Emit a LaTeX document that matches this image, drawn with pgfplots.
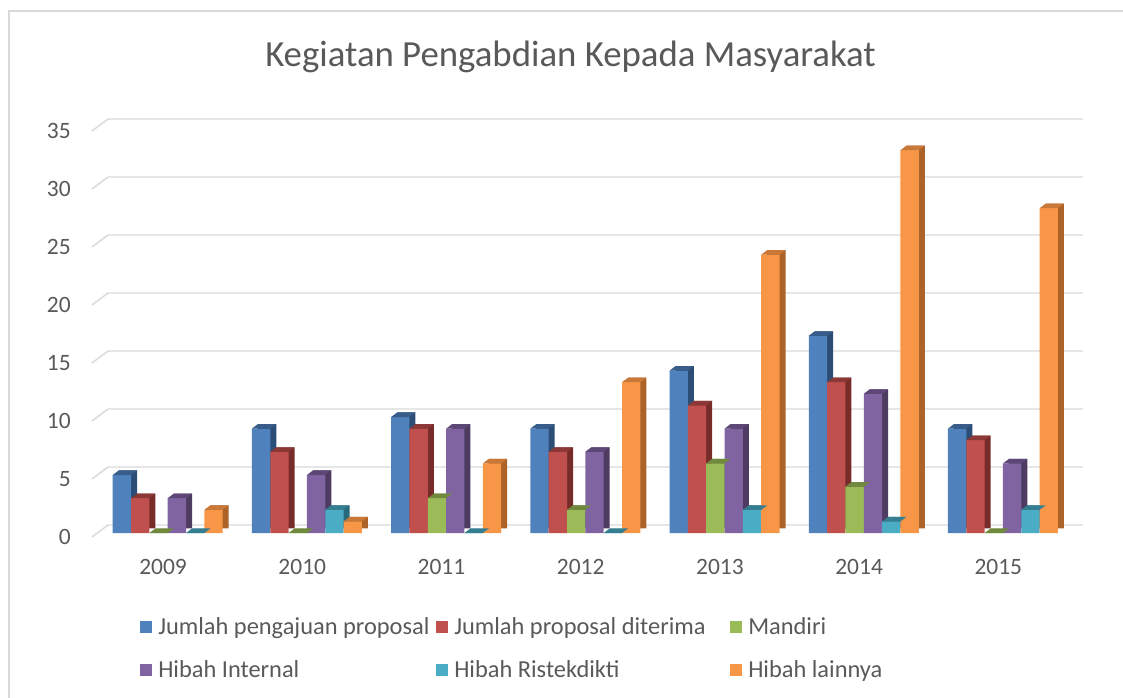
\documentclass[border=0pt]{standalone}
\usepackage{fontspec}
\setmainfont{Carlito}
\usepackage{pgfplots}
\usepackage{pgfplotstable}
\pgfplotsset{compat=1.18}

\definecolor{txt}{HTML}{595959}
\definecolor{gridc}{HTML}{D9D9D9}
\definecolor{c1}{HTML}{4F81BD}\definecolor{c1s}{HTML}{2C4D75}\definecolor{c1t}{HTML}{385D8A}
\definecolor{c2}{HTML}{C0504D}\definecolor{c2s}{HTML}{772C2A}\definecolor{c2t}{HTML}{8C3836}
\definecolor{c3}{HTML}{9BBB59}\definecolor{c3s}{HTML}{5F7530}\definecolor{c3t}{HTML}{71893F}
\definecolor{c4}{HTML}{8064A2}\definecolor{c4s}{HTML}{4D3B62}\definecolor{c4t}{HTML}{5C4776}
\definecolor{c5}{HTML}{4BACC6}\definecolor{c5s}{HTML}{276A7C}\definecolor{c5t}{HTML}{357D91}
\definecolor{c6}{HTML}{F79646}\definecolor{c6s}{HTML}{AC6329}\definecolor{c6t}{HTML}{C97838}

\pgfdeclareplotmark{topface}{%
  \pgfpathmoveto{\pgfpoint{-6.875pt}{0pt}}%
  \pgfpathlineto{\pgfpoint{6.875pt}{0pt}}%
  \pgfpathlineto{\pgfpoint{11.375pt}{3.4pt}}%
  \pgfpathlineto{\pgfpoint{-2.375pt}{3.4pt}}%
  \pgfpathclose
  \pgfusepathqfill}

\pgfplotstableread{
x a b c d e f
0 5 3 0 3 0 2
1 9 7 0 5 2 1
2 10 9 3 9 0 6
3 9 7 2 7 0 13
4 14 11 6 9 2 24
5 17 13 4 12 1 33
6 9 8 0 6 2 28
}\data

\newcommand{\tickfont}{\fontsize{17.6}{20}\selectfont}
\newcommand{\legfont}{\fontsize{18.3}{21}\selectfont}
\pgfplotsset{
  side/.style={ybar, bar width=13.75pt, bar shift=#1, draw=none, xshift=4.5pt, yshift=3.4pt, forget plot},
  front/.style={ybar, bar width=13.75pt, bar shift=#1, draw=none,
     legend image code/.code={\fill[##1] (0pt,-4.5pt) rectangle (9pt,4.5pt);}},
  top/.style={only marks, mark=topface, xshift=#1, forget plot},
}

\begin{document}
\begin{tikzpicture}
\path[use as bounding box] (0,0) rectangle (842.25pt,-523.5pt);
\draw[gridc, line width=1.1pt] (850pt,-8.25pt) -- (6.75pt,-8.25pt) -- (6.75pt,-530pt);
\node[anchor=base, font=\fontsize{27.6}{30}\selectfont, text=txt] at (427.9pt,-50.25pt) {Kegiatan Pengabdian Kepada Masyarakat};
\begin{axis}[
  at={(81pt,-399.75pt)}, anchor=south west,
  scale only axis, width=731.25pt, height=304.5pt,
  xmin=-0.429, xmax=6.575, ymin=0, ymax=35,
  clip=false,
  axis line style={draw=none},
  major tick length=0pt,
  xtick={0,...,6},
  xticklabels={2009,2010,2011,2012,2013,2014,2015},
  ytick={0,5,...,35},
  /pgf/number format/assume math mode=true,
  tick label style={font=\tickfont, text=txt},
  yticklabel style={anchor=east, inner sep=0pt, xshift=-27.75pt, yshift=-3pt},
  xticklabel style={anchor=base, inner sep=0pt, yshift=-30.75pt, xshift=-3.5pt},
  legend columns=3,
  legend cell align=left,
  legend style={at={(axis description cs:0.0325,-0.2)}, anchor=north west,
    draw=none, fill=none, inner sep=0pt, font=\legfont, text=txt,
    row sep=14.5pt,
    /tikz/every odd column/.append style={column sep=2.75pt}},
]
\pgfplotsinvokeforeach{0,5,...,35}{
  \draw[gridc, line width=1.1pt] ([xshift=-12pt,yshift=-3pt]axis cs:-0.429,#1) -- ([yshift=6pt]axis cs:-0.429,#1) -- ([yshift=6pt]axis cs:6.575,#1);
}
% side faces
\addplot[side=-34.375pt, fill=c1s] table[x=x,y=a]{\data};
\addplot[side=-20.625pt, fill=c2s] table[x=x,y=b]{\data};
\addplot[side=-6.875pt, fill=c3s] table[x=x,y=c]{\data};
\addplot[side=6.875pt, fill=c4s] table[x=x,y=d]{\data};
\addplot[side=20.625pt, fill=c5s] table[x=x,y=e]{\data};
\addplot[side=34.375pt, fill=c6s] table[x=x,y=f]{\data};
% fronts and tops
\addplot[front=-34.375pt, fill=c1] table[x=x,y=a]{\data};
\addlegendentry{\makebox[206.25pt][l]{Jumlah pengajuan proposal}}
\addplot[top=-34.375pt, mark options={fill=c1t, draw=none}] table[x=x,y=a]{\data};
\addplot[front=-20.625pt, fill=c2] table[x=x,y=b]{\data};
\addlegendentry{\makebox[204.75pt][l]{Jumlah proposal diterima}}
\addplot[top=-20.625pt, mark options={fill=c2t, draw=none}] table[x=x,y=b]{\data};
\addplot[front=-6.875pt, fill=c3] table[x=x,y=c]{\data};
\addlegendentry{Mandiri}
\addplot[top=-6.875pt, mark options={fill=c3t, draw=none}] table[x=x,y=c]{\data};
\addplot[front=6.875pt, fill=c4] table[x=x,y=d]{\data};
\addlegendentry{\makebox[206.25pt][l]{Hibah Internal}}
\addplot[top=6.875pt, mark options={fill=c4t, draw=none}] table[x=x,y=d]{\data};
\addplot[front=20.625pt, fill=c5] table[x=x,y=e]{\data};
\addlegendentry{\makebox[204.75pt][l]{Hibah Ristekdikti}}
\addplot[top=20.625pt, mark options={fill=c5t, draw=none}] table[x=x,y=e]{\data};
\addplot[front=34.375pt, fill=c6] table[x=x,y=f]{\data};
\addlegendentry{Hibah lainnya}
\addplot[top=34.375pt, mark options={fill=c6t, draw=none}] table[x=x,y=f]{\data};
\end{axis}
\end{tikzpicture}
\end{document}
